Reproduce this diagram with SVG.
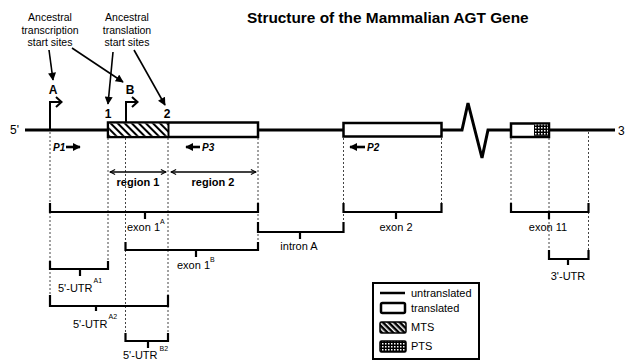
<svg xmlns="http://www.w3.org/2000/svg" width="627" height="360" viewBox="0 0 627 360">
<style>
text{font-family:"Liberation Sans",Arial,sans-serif;fill:#000}
.lbl{font-size:11px}
.top{font-size:10.5px}
.sup{font-size:7px}
.bold{font-weight:bold}
.dash{stroke:#444;stroke-width:1;stroke-dasharray:2,2;fill:none}
.br{stroke:#000;stroke-width:2.2;fill:none}
.gene{stroke:#000;stroke-width:3;fill:none}
.box{stroke:#000;stroke-width:2.5;fill:#fff}
.ptr{stroke:#000;stroke-width:1.6;fill:none}
.tss{stroke:#000;stroke-width:2;fill:none}
.prm{stroke:#000;stroke-width:2.6}
</style>
<defs>
<pattern id="hatch" width="5" height="5" patternUnits="userSpaceOnUse" patternTransform="rotate(-45)">
<rect width="5" height="5" fill="#fff"/><rect width="2" height="5" fill="#000"/>
</pattern>
<pattern id="hatchInv" width="4" height="4" patternUnits="userSpaceOnUse" patternTransform="rotate(-45)">
<rect width="4" height="4" fill="#000"/><rect width="1.5" height="4" fill="#fff"/>
</pattern>
<pattern id="grid" width="3" height="3" patternUnits="userSpaceOnUse">
<rect width="3" height="3" fill="#000"/><rect x="1" y="1" width="1.5" height="1.5" fill="#fff"/>
</pattern>
<marker id="fa" viewBox="0 0 10 10" refX="9" refY="5" markerWidth="5.5" markerHeight="5" orient="auto" markerUnits="strokeWidth">
<path d="M0,0 L10,5 L0,10 z" fill="#000"/>
</marker>
<marker id="oa" viewBox="0 0 10 10" refX="9" refY="5" markerWidth="4" markerHeight="5" orient="auto-start-reverse" markerUnits="strokeWidth">
<path d="M1,1 L9,5 L1,9" fill="none" stroke="#000" stroke-width="1.6"/>
</marker>
<marker id="pa" viewBox="0 0 10 10" refX="9" refY="5" markerWidth="3" markerHeight="3" orient="auto" markerUnits="strokeWidth">
<path d="M0,0 L10,5 L0,10 z" fill="#000"/>
</marker>
</defs>

<text x="247" y="23" class="bold" style="font-size:15.4px">Structure of the Mammalian AGT Gene</text>

<g id="labels-top">
<text class="top" text-anchor="middle"><tspan x="50" y="21">Ancestral</tspan><tspan x="50" y="33.5">transcription</tspan><tspan x="50" y="46">start sites</tspan></text>
<text class="top" text-anchor="middle"><tspan x="127" y="21">Ancestral</tspan><tspan x="127" y="33.5">translation</tspan><tspan x="127" y="46">start sites</tspan></text>
</g>

<g id="connectors">
<line class="ptr" x1="49" y1="50" x2="53" y2="80" marker-end="url(#fa)"/>
<line class="ptr" x1="72" y1="48" x2="123" y2="82" marker-end="url(#fa)"/>
<line class="ptr" x1="113" y1="52" x2="108" y2="104" marker-end="url(#fa)"/>
<line class="ptr" x1="134" y1="50" x2="165" y2="105" marker-end="url(#fa)"/>
</g>

<g id="dashes">
<line class="dash" x1="50" y1="132" x2="50" y2="306"/>
<line class="dash" x1="108" y1="138" x2="108" y2="269"/>
<line class="dash" x1="125.5" y1="138" x2="125.5" y2="341"/>
<line class="dash" x1="168" y1="138" x2="168" y2="341"/>
<line class="dash" x1="258" y1="138" x2="258" y2="250"/>
<line class="dash" x1="343.5" y1="138" x2="343.5" y2="232"/>
<line class="dash" x1="441.5" y1="138" x2="441.5" y2="212"/>
<line class="dash" x1="511" y1="138" x2="511" y2="212"/>
<line class="dash" x1="549" y1="138" x2="549" y2="259"/>
<line class="dash" x1="588.5" y1="132" x2="588.5" y2="259"/>
</g>

<g id="gene">
<text x="10" y="134" style="font-size:12px">5'</text>
<polyline class="gene" points="25,130 442,130 462,130 468,103 482,158 488,130 615,130"/>
<text x="618" y="135" style="font-size:12px">3</text>
<g id="exon1">
<rect class="box" x="108" y="122.5" width="150" height="14.5"/>
<rect x="109.2" y="123.7" width="58.8" height="12.1" fill="url(#hatch)"/>
<line x1="168.5" y1="122.5" x2="168.5" y2="137" stroke="#000" stroke-width="2"/>
</g>
<g id="exon2"><rect class="box" x="343.5" y="123" width="98" height="13.5"/></g>
<g id="exon11">
<rect class="box" x="511" y="123.5" width="38" height="13.5"/>
<rect x="534" y="124.7" width="13.8" height="11.1" fill="url(#grid)"/>
</g>
</g>

<g id="tss">
<path class="tss" d="M50,130 V102 H60"/>
<path class="tss" d="M56,97 L61.5,102 L56,107"/>
<path class="tss" d="M126,122 V102 H136"/>
<path class="tss" d="M132,97 L137.5,102 L132,107"/>
<text x="53" y="94" text-anchor="middle" class="bold" style="font-size:12px">A</text>
<text x="130" y="94" text-anchor="middle" class="bold" style="font-size:12px">B</text>
<text x="108" y="118" text-anchor="middle" class="bold" style="font-size:12px">1</text>
<text x="167" y="118" text-anchor="middle" class="bold" style="font-size:12px">2</text>
</g>

<g id="primers">
<text x="53" y="150.5" class="bold" style="font-size:10px;font-style:italic">P1</text>
<line class="prm" x1="66" y1="147" x2="80" y2="147" marker-end="url(#pa)"/>
<line class="prm" x1="200" y1="147" x2="186" y2="147" marker-end="url(#pa)"/>
<text x="202" y="150.5" class="bold" style="font-size:10px;font-style:italic">P3</text>
<line class="prm" x1="365" y1="147" x2="350" y2="147" marker-end="url(#pa)"/>
<text x="367" y="150.5" class="bold" style="font-size:10px;font-style:italic">P2</text>
</g>

<g id="regions">
<line x1="110" y1="172" x2="166" y2="172" stroke="#000" stroke-width="1.6" marker-start="url(#oa)" marker-end="url(#oa)"/>
<line x1="171" y1="172" x2="256" y2="172" stroke="#000" stroke-width="1.6" marker-start="url(#oa)" marker-end="url(#oa)"/>
<text x="138" y="186" text-anchor="middle" class="lbl bold">region 1</text>
<text x="213" y="186" text-anchor="middle" class="lbl bold">region 2</text>
</g>

<g id="brackets">
<path class="br" d="M50,203 V212 H258 V203 M145,212 V219"/>
<text x="127" y="231" class="lbl">exon 1<tspan class="sup" dy="-7">A</tspan></text>
<path class="br" d="M258,222 V232 H343.5 V222 M300,232 V239"/>
<text x="299" y="250" text-anchor="middle" class="lbl">intron A</text>
<path class="br" d="M125.5,242 V250 H258 V242 M196,250 V257"/>
<text x="177" y="269" class="lbl">exon 1<tspan class="sup" dy="-7">B</tspan></text>
<path class="br" d="M50,261 V269 H108 V261 M80,269 V276"/>
<text x="58" y="292" class="lbl">5'-UTR<tspan class="sup" dx="1" dy="-9">A1</tspan></text>
<path class="br" d="M50,295 V306 H168 V295 M96,306 V311"/>
<text x="73" y="328" class="lbl">5'-UTR<tspan class="sup" dx="1" dy="-9">A2</tspan></text>
<path class="br" d="M125.5,333 V341 H168 V333 M148,341 V348"/>
<text x="123" y="359" class="lbl">5'-UTR<tspan class="sup" dx="2" dy="-8">B2</tspan></text>
<path class="br" d="M343.5,203 V212 H441.5 V203 M396,212 V219"/>
<text x="396" y="231" text-anchor="middle" class="lbl">exon 2</text>
<path class="br" d="M511,203 V212 H588.5 V203 M549,212 V219"/>
<text x="548" y="231" text-anchor="middle" class="lbl">exon 11</text>
<path class="br" d="M549,250 V259 H588.5 V250 M568,259 V265"/>
<text x="568" y="280" text-anchor="middle" class="lbl">3'-UTR</text>
</g>

<g id="legend">
<rect x="373" y="283" width="106" height="76" fill="#fff" stroke="#000" stroke-width="2"/>
<line x1="380" y1="293" x2="405" y2="293" stroke="#000" stroke-width="2.5"/>
<text x="411" y="297" class="lbl">untranslated</text>
<rect x="381" y="303" width="24" height="10" rx="1.5" fill="#fff" stroke="#000" stroke-width="2.5"/>
<text x="411" y="312" class="lbl">translated</text>
<rect x="380" y="322" width="26" height="11" rx="1.5" fill="url(#hatchInv)" stroke="#000" stroke-width="1.5"/>
<text x="411" y="331" class="lbl">MTS</text>
<rect x="380" y="341" width="26" height="11" rx="1.5" fill="url(#grid)" stroke="#000" stroke-width="1.5"/>
<text x="411" y="350" class="lbl">PTS</text>
</g>
</svg>
